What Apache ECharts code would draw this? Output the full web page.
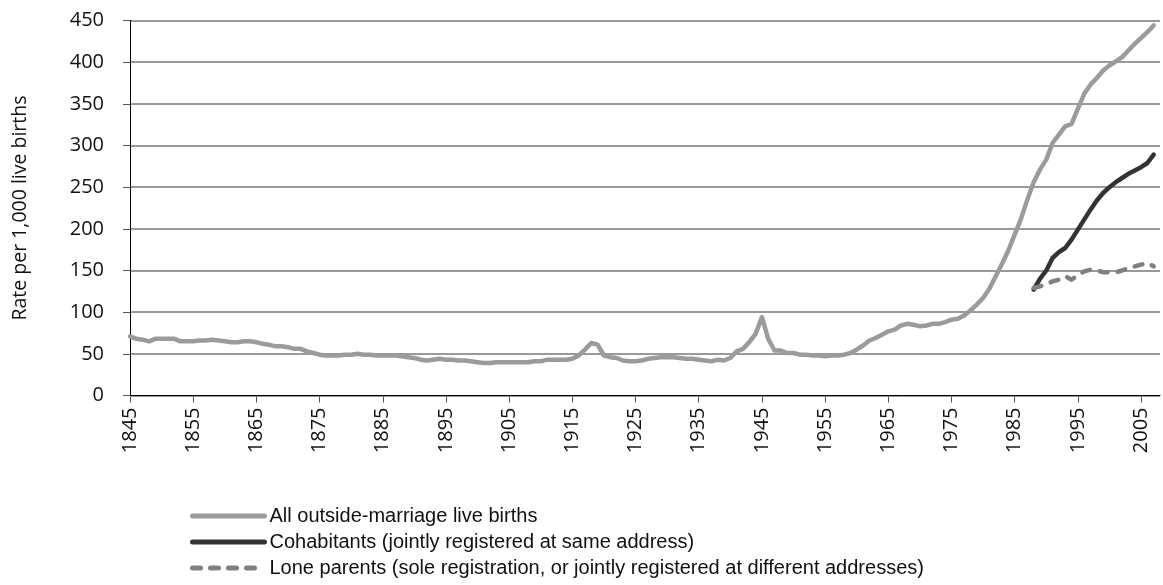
<!DOCTYPE html>
<html>
<head>
<meta charset="utf-8">
<style>
  html, body { margin: 0; padding: 0; background: #fff; }
  #chart { width: 1163px; height: 585px; }
</style>
<script src="https://cdn.jsdelivr.net/npm/echarts@6/dist/echarts.min.js"></script>
</head>
<body>
<div id="chart"></div>
<script>
// x axis categories: every year 1845..2008
const firstYear = 1845;
const lastYear = 2008;
const years = [];
for (let y = firstYear; y <= lastYear; y++) years.push(String(y));

// all outside-marriage live births, 1845..2007
const allStart = 1845;
const allBirths = [
  71, 68, 67, 65, 68, 68, 68, 68, 65, 65, // 1845
  65, 66, 66, 67, 66, 65, 64, 64, 65, 65, // 1855
  64, 62, 61, 59, 59, 58, 56, 56, 53, 51, // 1865
  49, 48, 48, 48, 49, 49, 50, 49, 49, 48, // 1875
  48, 48, 48, 47, 46, 45, 43, 42, 43, 44, // 1885
  43, 43, 42, 42, 41, 40, 39, 39, 40, 40, // 1895
  40, 40, 40, 40, 41, 41, 43, 43, 43, 43, // 1905
  44, 48, 55, 63, 61, 48, 46, 45, 42, 41, // 1915
  41, 42, 44, 45, 46, 46, 46, 45, 44, 44, // 1925
  43, 42, 41, 43, 42, 45, 53, 56, 64, 74, // 1935
  94, 68, 54, 54, 51, 51, 49, 49, 48, 48, // 1945
  47, 48, 48, 49, 51, 55, 60, 66, 69, 73, // 1955
  77, 79, 84, 86, 85, 83, 84, 86, 86, 88, // 1965
  91, 92, 96, 102, 109, 117, 128, 143, 158, 174, // 1975
  193, 212, 235, 256, 271, 283, 303, 313, 323, 326, // 1985
  344, 362, 373, 381, 390, 396, 401, 406, 414, 422, // 1995
  429, 436, 444 // 2005
];

// cohabitants and lone parents, 1988..2007
const splitStart = 1988;
const cohabitants = [127, 140, 150, 165, 172, 177, 187, 199, 211, 223,
                     234, 243, 250, 256, 261, 266, 270, 274, 279, 289];
const loneParents = [129, 131, 134, 137, 139, 143, 139, 144, 149, 151,
                     150, 148, 148, 148, 150, 153, 155, 157, 159, 155];

const yTicks = { min: 0, max: 450, interval: 50 };

const toPairs = (start, values) => values.map((v, i) => [String(start + i), v]);

const chart = echarts.init(document.getElementById('chart'));
chart.setOption({
  animation: false,
  grid: { left: 130, right: 3, top: 20.5, bottom: 189.5, containLabel: false },
  legend: {
    orient: 'vertical',
    left: 190,
    top: 503,
    padding: 0,
    itemWidth: 72,
    itemHeight: 14,
    itemGap: 0,
    itemStyle: { opacity: 0 },
    lineStyle: { width: 5 },
    textStyle: { fontFamily: 'Liberation Sans', fontSize: 20, color: '#111', lineHeight: 26 },
    data: [
      'All outside-marriage live births',
      'Cohabitants (jointly registered at same address)',
      'Lone parents (sole registration, or jointly registered at different addresses)'
    ]
  },
  xAxis: {
    type: 'category',
    data: years,
    boundaryGap: false,
    axisLine: { lineStyle: { color: '#000', width: 1 } },
    axisTick: { interval: 9, length: 7, lineStyle: { color: '#555' } },
    axisLabel: {
      interval: 9,
      rotate: 90,
      margin: 12,
      color: '#111',
      fontFamily: 'Open Sans',
      fontSize: 20
    },
    splitLine: { show: false }
  },
  yAxis: {
    type: 'value',
    min: yTicks.min,
    max: yTicks.max,
    interval: yTicks.interval,
    name: 'Rate per 1,000 live births',
    nameLocation: 'middle',
    nameGap: 100,
    nameTextStyle: { fontFamily: 'Open Sans', fontSize: 19.5, color: '#111' },
    axisLine: { show: true, lineStyle: { color: '#000', width: 1 } },
    axisTick: { show: true, length: 7, lineStyle: { color: '#555' } },
    axisLabel: { margin: 26, color: '#111', fontFamily: 'Open Sans', fontSize: 20 },
    splitLine: { lineStyle: { color: '#9a9a9a', width: 2 } }
  },
  series: [
    {
      name: 'All outside-marriage live births',
      type: 'line',
      showSymbol: false,
      symbol: 'none',
      data: toPairs(allStart, allBirths),
      lineStyle: { color: '#9b9b9b', width: 4.5, cap: 'round', join: 'round' },
      itemStyle: { color: '#9b9b9b' }
    },
    {
      name: 'Cohabitants (jointly registered at same address)',
      type: 'line',
      showSymbol: false,
      symbol: 'none',
      data: toPairs(splitStart, cohabitants),
      lineStyle: { color: '#333333', width: 4.5, cap: 'round', join: 'round' },
      itemStyle: { color: '#333333' }
    },
    {
      name: 'Lone parents (sole registration, or jointly registered at different addresses)',
      type: 'line',
      showSymbol: false,
      symbol: 'none',
      data: toPairs(splitStart, loneParents),
      lineStyle: { color: '#808080', width: 4.5, type: [8, 10], cap: 'round', join: 'round' },
      itemStyle: { color: '#808080' }
    }
  ]
});
</script>
</body>
</html>
